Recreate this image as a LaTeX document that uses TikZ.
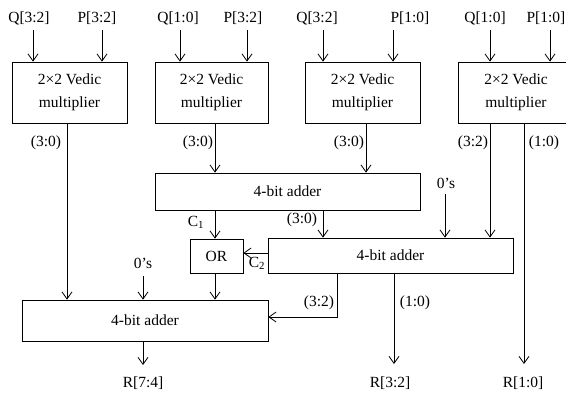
\documentclass[tikz,border=0pt]{standalone}
\usepackage{fontspec}
\setmainfont{Liberation Serif}
\usetikzlibrary{arrows.meta}
\begin{document}
\begin{tikzpicture}[x=1pt,y=-1pt,
  every node/.style={font=\fontsize{15.5}{23}\selectfont, inner sep=1pt},
  blk/.style={draw, line width=0.8pt, inner sep=0pt, align=center},
  arr/.style={-{Straight Barb[length=7pt,width=10pt,line width=0.8pt]}, line width=0.8pt},
  lbl/.style={inner sep=0pt}]
\useasboundingbox (0,0) rectangle (566,394);
% multipliers
\node[blk, minimum width=115pt, minimum height=61pt] (m1) at (69.5,92.5) {2×2 Vedic\\multiplier};
\node[blk, minimum width=113pt, minimum height=61pt] (m2) at (211.5,92.5) {2×2 Vedic\\multiplier};
\node[blk, minimum width=115pt, minimum height=61pt] (m3) at (362.5,92.5) {2×2 Vedic\\multiplier};
\node[blk, minimum width=116pt, minimum height=61pt] (m4) at (516,92.5) {2×2 Vedic\\multiplier};
% adders
\node[blk, minimum width=265pt, minimum height=37pt] (a1) at (287.5,191.5) {4-bit adder};
\node[blk, minimum width=53pt, minimum height=34pt] (or) at (216.5,256) {OR};
\node[blk, minimum width=245pt, minimum height=35pt] (a2) at (390.5,255.5) {4-bit adder};
\node[blk, minimum width=246pt, minimum height=41pt] (a3) at (145,320.5) {4-bit adder};
% input labels
\node[lbl] (q1) at (29,18) {Q[3:2]};
\node[lbl] (p1) at (97,18) {P[3:2]};
\node[lbl] (q2) at (178,18) {Q[1:0]};
\node[lbl] (p2) at (243,18) {P[3:2]};
\node[lbl] (q3) at (317,18) {Q[3:2]};
\node[lbl] (p3) at (410,18) {P[1:0]};
\node[lbl] (q4) at (485,18) {Q[1:0]};
\node[lbl] (p4) at (546,18) {P[1:0]};
\foreach \n/\x in {q1/33,p1/102,q2/180,p2/247,q3/323,p3/393,q4/490,p4/550}{
  \coordinate (\n s) at (\x,30);
}
\draw[arr] (q1s) -- (q1s |- m1.north);
\draw[arr] (p1s) -- (p1s |- m1.north);
\draw[arr] (q2s) -- (q2s |- m2.north);
\draw[arr] (p2s) -- (p2s |- m2.north);
\draw[arr] (q3s) -- (q3s |- m3.north);
\draw[arr] (p3s) -- (p3s |- m3.north);
\draw[arr] (q4s) -- (q4s |- m4.north);
\draw[arr] (p4s) -- (p4s |- m4.north);
% multiplier outputs
\coordinate (o1) at (67,123);
\coordinate (o2) at (215,123);
\coordinate (o3) at (366,123);
\coordinate (o4a) at (490,123);
\coordinate (o4b) at (524,123);
\draw[arr] (o1) -- (o1 |- a3.north);
\draw[arr] (o2) -- (o2 |- a1.north);
\draw[arr] (o3) -- (o3 |- a1.north);
\draw[arr] (o4a) -- (o4a |- a2.north);
\coordinate (r10) at (524,364);
\draw[arr] (o4b) -- (r10);
\node[lbl] (l1) at (46,143) {(3:0)};
\node[lbl] (l2) at (198,143) {(3:0)};
\node[lbl] (l3) at (349,143) {(3:0)};
\node[lbl] (l4) at (473,143) {(3:2)};
\node[lbl] (l5) at (544,143) {(1:0)};
% adder1 outputs
\coordinate (c1) at (215,210);
\draw[arr] (c1) -- (c1 |- or.north);
\node[lbl] (c1l) at (196,222) {C\textsubscript{1}};
\coordinate (s1) at (323,210);
\draw[arr] (s1) -- (s1 |- a2.north);
\node[lbl] (s1l) at (302,220) {(3:0)};
% zeros for adder2
\node[lbl] (z2) at (446,183) {0’s};
\coordinate (z2s) at (445,194);
\draw[arr] (z2s) -- (z2s |- a2.north);
% C2
\coordinate (c2) at (268,253);
\draw[arr] (c2) -- (c2 -| or.east);
\node[lbl] (c2l) at (257,263) {C\textsubscript{2}};
% OR to bottom adder
\coordinate (orb) at (215,273);
\draw[arr] (orb) -- (orb |- a3.north);
% zeros for bottom adder
\node[lbl] (z3) at (143,263) {0’s};
\coordinate (z3s) at (143,276);
\draw[arr] (z3s) -- (z3s |- a3.north);
% adder2 outputs
\coordinate (t32) at (337,273);
\coordinate (t32c) at (337,317);
\draw[arr] (t32) -- (t32c) -- (t32c -| a3.east);
\node[lbl] (t32l) at (319,303) {(3:2)};
\coordinate (t10) at (394,273);
\coordinate (r32) at (394,364);
\draw[arr] (t10) -- (r32);
\node[lbl] (t10l) at (415,303) {(1:0)};
% bottom adder output
\coordinate (r74) at (143,365);
\draw[arr] (a3.south -| r74) -- (r74);
% result labels
\node[lbl] (R1) at (143,383) {R[7:4]};
\node[lbl] (R2) at (390,383) {R[3:2]};
\node[lbl] (R3) at (523,383) {R[1:0]};
\end{tikzpicture}
\end{document}
